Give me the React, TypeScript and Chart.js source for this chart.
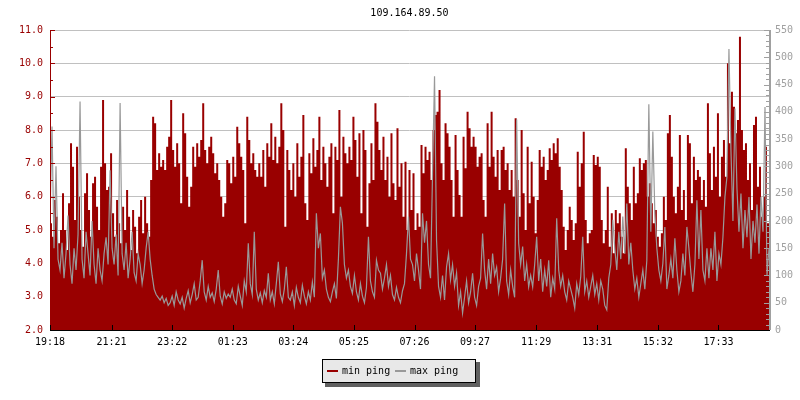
import React, { useEffect, useRef } from "react";
import { Chart, registerables } from "chart.js";

Chart.register(...registerables);

const TITLE = "109.164.89.50";
const STEP_MIN = 4;
const X_TICK_MINUTES = [0, 123, 244, 365, 486, 607, 728, 849, 971, 1093, 1214, 1335];
const X_TICK_LABELS = ["19:18", "21:21", "23:22", "01:23", "03:24", "05:25", "07:26", "09:27", "11:29", "13:31", "15:32", "17:33"];

// min ping (left axis), one block per 2-hour label interval
const minPing1918 = [5.6,5.2,4.8,5.9,5.4,4.6,5.0,6.1,5.0,4.4,5.8,7.6,6.9,5.3,7.5,6.0,5.0,4.5,6.1,6.7,5.6,4.8,6.4,6.6,5.7,5.0,6.9,8.9,7.0,6.2];
const minPing2121 = [6.3,7.3,5.5,4.8,5.9,5.2,4.6,5.7,5.0,6.2,5.4,4.4,5.6,5.1,4.3,5.4,5.9,4.9,6.0,5.2,4.8,6.5,8.4,8.2,6.8,7.3,6.9,7.1,6.8,7.5];
const minPing2322 = [7.8,8.9,7.4,6.9,7.6,7.0,5.8,8.5,7.9,6.6,5.7,6.3,7.5,6.9,7.6,7.2,7.7,8.8,7.4,7.0,7.5,7.8,7.3,6.7,7.0,6.5,6.0,5.4,5.8,7.1];
const minPing0123 = [7.0,6.4,7.2,6.6,8.1,7.6,7.2,6.8,5.2,8.4,7.7,7.0,7.3,6.8,6.6,7.0,6.6,7.4,6.3,7.6,7.2,8.2,7.1,7.8,7.0,7.5,8.8,8.0,5.1,7.4];
const minPing0324 = [6.8,6.2,7.0,6.0,7.6,6.6,7.2,8.45,5.8,5.3,7.3,6.7,7.75,6.9,7.4,8.4,6.5,7.5,7.0,6.3,7.2,7.6,5.5,7.5,7.1,8.6,6.0,7.8,7.3,7.0];
const minPing0525 = [7.5,7.1,8.4,7.7,6.6,7.9,5.5,8.0,7.4,5.1,6.4,7.6,6.5,8.8,8.25,7.4,6.8,7.8,6.5,7.2,6.0,7.9,6.4,5.9,8.05,6.3,7.0,5.4,7.05,5.0];
const minPing0726 = [6.8,5.6,6.7,5.0,5.5,5.1,7.55,6.7,7.5,7.1,7.35,6.5,8.0,8.45,8.55,9.2,7.0,6.5,8.2,7.9,7.5,6.5,5.4,7.85,6.8,6.05,5.4,7.8,6.85,8.55];
const minPing0927 = [8.05,7.5,7.8,7.5,6.9,7.2,7.3,5.9,5.4,8.2,6.9,8.55,7.2,6.6,7.4,6.2,7.4,7.5,6.8,7.0,6.2,6.8,6.0,8.35,6.5,5.4,8.0,6.1,5.0,7.5];
const minPing1129 = [5.8,7.05,6.0,4.9,5.9,7.4,6.9,7.2,6.5,6.8,7.45,7.1,7.6,7.3,7.75,6.9,6.2,5.1,4.4,5.0,5.7,5.3,4.7,5.2,7.35,6.3,7.0,7.95,5.3,4.6];
const minPing1331 = [4.9,5.0,7.25,6.95,7.2,6.9,5.3,4.6,5.0,6.3,4.5,5.5,4.3,5.6,5.2,5.5,4.8,4.3,7.45,6.3,5.8,5.3,6.9,5.8,6.1,7.15,6.8,7.0,7.1,6.0];
const minPing1532 = [6.4,5.8,5.2,5.6,4.8,4.5,4.9,6.0,5.3,7.9,8.45,7.2,6.0,5.5,6.3,7.85,5.6,6.2,5.3,7.85,7.6,5.8,7.2,6.5,6.8,6.6,5.9,6.5,5.7,8.8];
const minPing1733 = [7.3,6.2,7.5,6.6,8.5,6.0,7.2,7.7,6.6,10.0,7.6,9.15,8.7,7.9,8.3,10.8,8.0,7.4,7.6,6.5,7.0,5.6,8.15,8.4,6.3,6.9,5.4,6.0,7.5,5.2];

// max ping (right axis)
const maxPing1918 = [200,373,150,300,130,110,160,95,140,210,120,85,150,110,175,419,130,95,180,140,100,200,120,85,150,110,90,140,170,120];
const maxPing2121 = [293,150,120,175,100,416,140,110,160,95,130,180,105,90,140,120,85,110,150,180,130,100,75,65,60,55,62,50,58,45];
const maxPing2322 = [50,62,45,70,55,48,60,40,58,72,50,65,85,55,60,90,128,70,55,80,60,68,52,75,110,62,48,70,58,66];
const maxPing0123 = [60,75,55,48,80,62,45,90,70,159,85,65,180,75,55,68,50,72,60,104,55,70,48,85,125,66,52,75,116,60];
const maxPing0324 = [55,70,45,78,60,50,82,62,48,70,55,88,60,214,150,177,95,110,75,60,52,70,85,58,130,226,196,120,95,110];
const maxPing0525 = [80,67,100,70,55,85,62,50,78,171,90,70,60,128,110,104,75,95,120,80,100,65,55,78,60,50,72,85,140,208];
const maxPing0726 = [130,120,90,140,110,75,214,160,200,120,95,287,465,165,80,60,100,55,116,140,92,120,80,105,45,70,31,60,90,50];
const maxPing0927 = [70,104,60,45,80,95,177,110,75,130,85,140,100,115,70,95,130,232,90,65,110,80,60,386,159,120,153,90,120,79];
const maxPing1129 = [100,79,120,171,90,130,70,110,80,128,60,95,75,205,110,80,100,70,55,90,75,60,40,85,65,98,171,70,90,60];
const maxPing1331 = [80,100,65,85,55,90,75,45,37,95,120,202,150,110,180,130,208,140,232,120,160,110,75,95,60,85,110,75,128,414];
const maxPing1532 = [180,364,214,150,110,90,122,189,75,100,130,95,168,110,70,90,140,100,189,150,105,70,120,238,130,220,110,90,150,95];
const maxPing1733 = [150,110,180,90,140,120,170,244,281,515,330,200,406,260,180,250,150,220,170,244,130,200,160,230,140,244,180,409,100,150];

const minPing = [
  ...minPing1918, ...minPing2121, ...minPing2322, ...minPing0123, ...minPing0324, ...minPing0525,
  ...minPing0726, ...minPing0927, ...minPing1129, ...minPing1331, ...minPing1532, ...minPing1733,
];
const maxPing = [
  ...maxPing1918, ...maxPing2121, ...maxPing2322, ...maxPing0123, ...maxPing0324, ...maxPing0525,
  ...maxPing0726, ...maxPing0927, ...maxPing1129, ...maxPing1331, ...maxPing1532, ...maxPing1733,
];

const RED = "#990000";
const GRAY = "#999999";
const FONT = "'DejaVu Sans Mono', monospace";

const chromePlugin = {
  id: "chrome",
  afterDatasetsDraw(chart: any) {
    const { ctx, chartArea, scales } = chart;
    const { left, right, top, bottom } = chartArea;
    ctx.save();
    // left axis
    ctx.fillStyle = RED;
    ctx.fillRect(left, top, 1, bottom - top);
    for (let k = 0; k <= 18; k++) {
      const v = 2 + k * 0.5;
      const py = Math.round(scales.y.getPixelForValue(v));
      const len = k % 2 === 0 ? 5 : 3;
      ctx.fillRect(left, py, len, 1);
    }
    // right axis
    ctx.fillStyle = "#a0a0a0";
    ctx.fillRect(right, top, 2, bottom - top);
    for (let v = 0; v <= 550; v += 10) {
      const py = Math.round(scales.y1.getPixelForValue(v));
      const len = v % 50 === 0 ? 5 : 3;
      ctx.fillRect(right - len, py, len, 1);
    }
    // x axis
    ctx.fillStyle = "#000";
    ctx.fillRect(left, bottom, right - left + 1, 1);
    X_TICK_MINUTES.forEach((m) => {
      const px = Math.round(scales.x.getPixelForValue(m));
      ctx.fillRect(px, bottom - 5, 1, 5);
    });
    ctx.restore();
  },
  afterDraw(chart: any) {
    const { ctx, chartArea } = chart;
    ctx.save();
    ctx.font = `10px ${FONT}`;
    ctx.fillStyle = "#000";
    ctx.textAlign = "center";
    ctx.textBaseline = "middle";
    ctx.fillText(TITLE, (chartArea.left + chartArea.right) / 2, 13.5);

    // legend
    ctx.fillStyle = "#606060";
    ctx.fillRect(325, 362, 155, 25);
    ctx.fillStyle = "#e8e8e8";
    ctx.fillRect(322, 359, 154, 24);
    ctx.strokeStyle = "#000";
    ctx.lineWidth = 1;
    ctx.strokeRect(322.5, 359.5, 153, 23);
    const ds = chart.data.datasets;
    const items = [
      { label: ds[1].label, color: RED, x: 327 },
      { label: ds[0].label, color: GRAY, x: 395 },
    ];
    ctx.textAlign = "left";
    items.forEach((it) => {
      ctx.fillStyle = it.color;
      ctx.fillRect(it.x, 370, 11, 2);
      ctx.fillStyle = "#000";
      ctx.fillText(it.label, it.x + 15, 371.5);
    });
    ctx.restore();
  },
};

export default function App() {
  const canvasRef = useRef<HTMLCanvasElement>(null);

  useEffect(() => {
    const canvas = canvasRef.current;
    if (!canvas) return;
    const minPts = minPing.map((v, i) => ({ x: i * STEP_MIN, y: v }));
    const maxPts = maxPing.map((v, i) => ({ x: i * STEP_MIN, y: v }));
    const chart = new Chart(canvas, {
      type: "line",
      data: {
        datasets: [
          {
            label: "max ping",
            data: maxPts,
            yAxisID: "y1",
            borderColor: GRAY,
            borderWidth: 1.2,
            pointRadius: 0,
            tension: 0,
            fill: false,
            order: 0,
          },
          {
            label: "min ping",
            data: minPts,
            yAxisID: "y",
            borderColor: "rgba(0,0,0,0)",
            borderWidth: 0,
            backgroundColor: RED,
            pointRadius: 0,
            stepped: "after",
            fill: "start",
            order: 1,
          },
        ],
      },
      options: {
        animation: false,
        responsive: false,
        maintainAspectRatio: false,
        layout: { padding: { top: 30, left: 0, right: 0, bottom: 0 } },
        plugins: {
          legend: { display: false },
          tooltip: { enabled: false },
          title: { display: false },
        },
        scales: {
          x: {
            type: "linear",
            min: 0,
            max: 1436,
            grid: { display: false, drawTicks: false },
            border: { display: false },
            afterBuildTicks: (scale: any) => {
              scale.ticks = X_TICK_MINUTES.map((v) => ({ value: v }));
            },
            afterFit: (scale: any) => {
              scale.height = 70;
            },
            ticks: {
              autoSkip: false,
              maxRotation: 0,
              padding: 6,
              color: "#000",
              font: { family: FONT, size: 10 },
              callback: (_v: any, i: number) => X_TICK_LABELS[i],
            },
          },
          y: {
            position: "left",
            min: 2,
            max: 11,
            grid: { color: "#c0c0c0", drawTicks: false, lineWidth: 1 },
            border: { display: false },
            afterFit: (scale: any) => {
              scale.width = 50;
            },
            ticks: {
              stepSize: 1,
              padding: 7,
              color: RED,
              font: { family: FONT, size: 10 },
              callback: (v: any) => Number(v).toFixed(1),
            },
          },
          y1: {
            position: "right",
            min: 0,
            max: 550,
            grid: { display: false, drawTicks: false },
            border: { display: false },
            afterFit: (scale: any) => {
              scale.width = 31;
            },
            ticks: {
              stepSize: 50,
              padding: 6,
              color: "#a0a0a0",
              font: { family: FONT, size: 10 },
            },
          },
        },
      },
      plugins: [chromePlugin],
    });
    return () => chart.destroy();
  }, []);

  return (
    <div style={{ position: "absolute", left: 0, top: 0, width: 800, height: 400, background: "#fff" }}>
      <canvas ref={canvasRef} width={800} height={400} style={{ width: 800, height: 400, display: "block" }} />
    </div>
  );
}
